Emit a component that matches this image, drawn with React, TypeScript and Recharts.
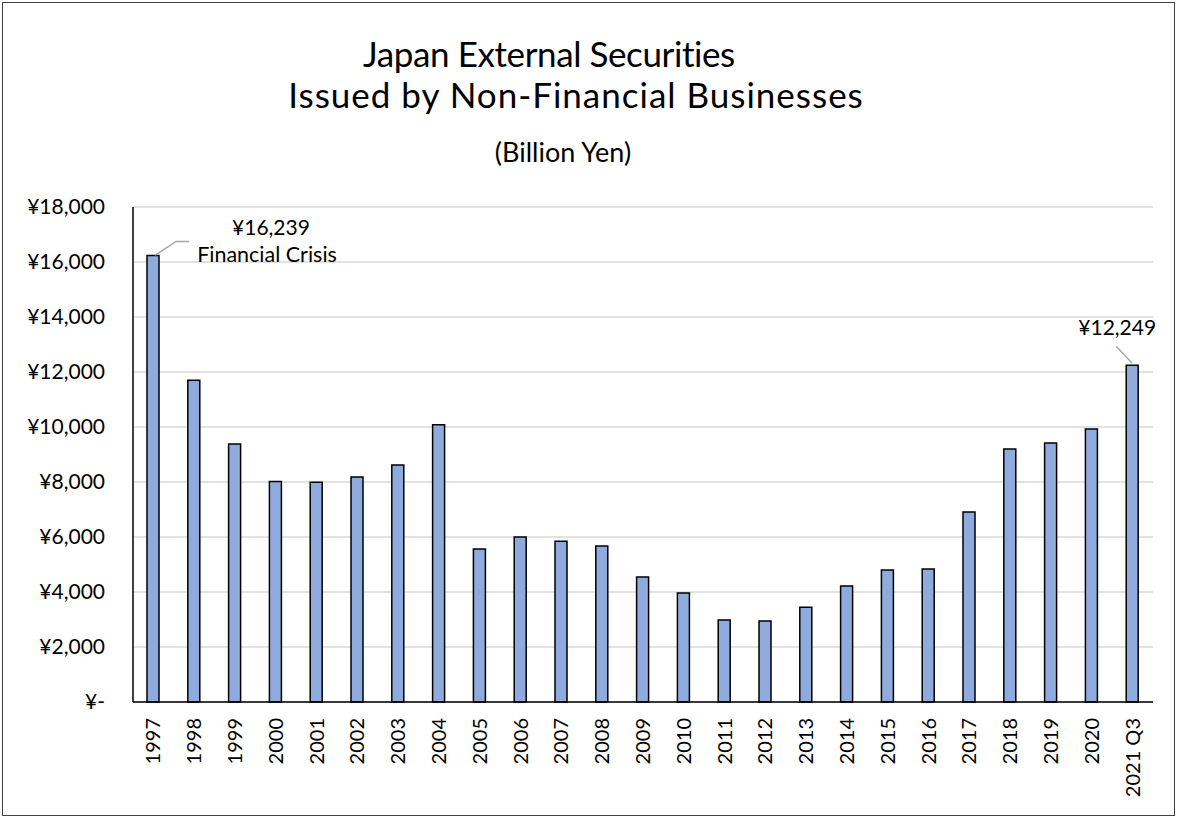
import { BarChart, Bar, XAxis, YAxis, CartesianGrid, LabelList } from "recharts";

const years = [
  "1997", "1998", "1999", "2000", "2001", "2002", "2003", "2004", "2005", "2006",
  "2007", "2008", "2009", "2010", "2011", "2012", "2013", "2014", "2015", "2016",
  "2017", "2018", "2019", "2020", "2021 Q3",
];

const securities = [
  16239, 11700, 9380, 8020, 7990, 8180, 8620, 10080, 5560, 6000,
  5850, 5670, 4550, 3960, 2980, 2950, 3450, 4220, 4800, 4840,
  6910, 9200, 9420, 9930, 12249,
];

const yTicks = [0, 2000, 4000, 6000, 8000, 10000, 12000, 14000, 16000, 18000];

const titleLines = ["Japan External Securities", "Issued by Non-Financial Businesses"];
const subtitle = "(Billion Yen)";

const crisisYear = "1997";
const crisisNote = "Financial Crisis";
const latestYear = "2021 Q3";

const data = years.map((year, i) => ({ year, value: securities[i] }));

const FONT = "Lato, 'Open Sans', sans-serif";

function yen(n: number): string {
  if (n === 0) return "¥-";
  return "¥" + n.toLocaleString("en-US");
}

function YearTick({ x, y, payload }: any) {
  return (
    <text
      x={x}
      y={y}
      transform={`rotate(-90, ${x}, ${y})`}
      textAnchor="end"
      dy="0.35em"
      fontSize={20}
      fontFamily={FONT}
      fill="#000"
    >
      {payload.value}
    </text>
  );
}

function Annotation(props: any) {
  const { x, y, width, value } = props;
  let idx = props.index;
  if (idx === undefined) idx = securities.indexOf(value);
  const year = years[idx];
  const cx = x + width / 2;

  if (year === crisisYear) {
    return (
      <g>
        <polyline
          points={`${cx + 2},${y} ${cx + 23},${y - 14} ${cx + 36},${y - 14}`}
          fill="none"
          stroke="#a6a6a6"
          strokeWidth={1.5}
        />
        <text x={cx + 118} y={y - 20} textAnchor="middle" fontSize={21} fontFamily={FONT} fill="#000">
          {yen(value)}
        </text>
        <text x={cx + 114} y={y + 7} textAnchor="middle" fontSize={21.5} fontFamily={FONT} fill="#000">
          {crisisNote}
        </text>
      </g>
    );
  }
  if (year === latestYear) {
    return (
      <g>
        <line x1={cx} y1={y - 2} x2={cx - 16} y2={y - 19} stroke="#a6a6a6" strokeWidth={1.5} />
        <text x={cx - 15} y={y - 30} textAnchor="middle" fontSize={21} fontFamily={FONT} fill="#000">
          {yen(value)}
        </text>
      </g>
    );
  }
  return null;
}

export default function App() {
  return (
    <div
      style={{
        position: "absolute",
        left: 0,
        top: 0,
        width: 1178,
        height: 817,
        background: "#fff",
        fontFamily: FONT,
      }}
    >
      <div
        style={{
          position: "absolute",
          left: 2,
          top: 2,
          width: 1171,
          height: 812,
          border: "1.5px solid #404040",
        }}
      />
      <div style={{ position: "absolute", left: 0, width: 1098, top: 32, textAlign: "center", fontSize: 35, lineHeight: "42px", letterSpacing: "-0.4px", color: "#000" }}>
        {titleLines[0]}
      </div>
      <div style={{ position: "absolute", left: 0, width: 1152, top: 73, textAlign: "center", fontSize: 35, lineHeight: "42px", letterSpacing: "1px", color: "#000" }}>
        {titleLines[1]}
      </div>
      <div style={{ position: "absolute", left: 0, width: 1126, top: 135, textAlign: "center", fontSize: 27, lineHeight: "34px", color: "#000" }}>
        {subtitle}
      </div>
      <div style={{ position: "absolute", left: 0, top: 0 }}>
        <BarChart
          width={1178}
          height={817}
          data={data}
          margin={{ top: 207, right: 25, left: 0, bottom: 0 }}
          barCategoryGap="34%"
        >
          <CartesianGrid horizontal vertical={false} stroke="#d9d9d9" strokeWidth={1.5} />
          <XAxis
            dataKey="year"
            interval={0}
            height={115}
            tickSize={0}
            tickMargin={16}
            tick={<YearTick />}
            axisLine={{ stroke: "#000", strokeWidth: 1.5 }}
          />
          <YAxis
            width={133}
            domain={[0, 18000]}
            ticks={yTicks}
            tickFormatter={yen}
            tickSize={0}
            tickMargin={28}
            tick={{ fontSize: 21, fontFamily: FONT, fill: "#000" }}
            axisLine={{ stroke: "#000", strokeWidth: 1.5 }}
          />
          <Bar
            dataKey="value"
            fill="#8faadc"
            stroke="#000"
            strokeWidth={1.5}
            barSize={12}
            isAnimationActive={false}
          >
            <LabelList dataKey="value" content={<Annotation />} />
          </Bar>
        </BarChart>
      </div>
    </div>
  );
}
